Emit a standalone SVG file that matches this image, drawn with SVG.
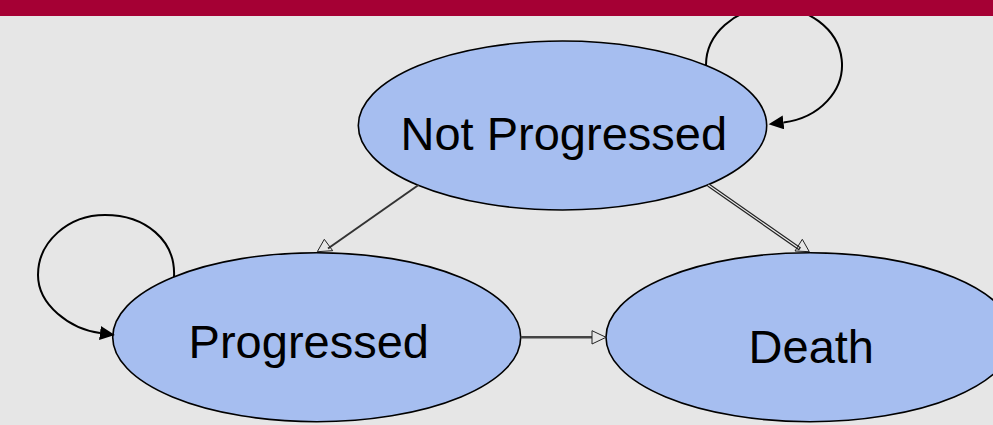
<svg xmlns="http://www.w3.org/2000/svg" width="993" height="425" viewBox="0 0 993 425">
<defs>
<style>
.node ellipse{fill:#A6BEF0;stroke:#000;stroke-width:1.6}
.node text{font-family:"Liberation Sans",Arial,sans-serif;font-size:47px;fill:#000;text-anchor:middle}
.loop{fill:none;stroke:#000;stroke-width:2}
.edge{fill:none;stroke:#333;stroke-width:2}
.dbl-out{fill:none;stroke:#222;stroke-width:3.6}
.dbl-in{fill:none;stroke:#eeeeee;stroke-width:1.2}
.head{fill:none;stroke:#222;stroke-width:1}
</style>
<marker id="fillArrow" markerUnits="userSpaceOnUse" markerWidth="16" markerHeight="16" refX="0" refY="7" orient="auto">
<path d="M0,0 L15,7 L0,14 Z" fill="#000"/>
</marker>
</defs>
<rect width="993" height="425" fill="#E6E6E6"/>

<g id="node-not-progressed" class="node">
<ellipse cx="562.5" cy="125.5" rx="204.2" ry="84.5"/>
<text x="563.8" y="150">Not Progressed</text>
</g>
<g id="node-progressed" class="node">
<ellipse cx="316.7" cy="337.2" rx="204" ry="84.5"/>
<text x="308.8" y="358.3">Progressed</text>
</g>
<g id="node-death" class="node">
<ellipse cx="810" cy="337.2" rx="204" ry="84.5"/>
<text x="811.3" y="363.3">Death</text>
</g>

<g id="connectors">
<path class="loop" d="M706,65 A68,58 0 1 1 783.5,122.4" marker-end="url(#fillArrow)"/>
<path class="loop" d="M174,277 C176,240 145,215 105,215 C68,215 38,242 38,275 C38,305 70,329 100,333" marker-end="url(#fillArrow)"/>
<line class="edge" x1="418.5" y1="185" x2="328" y2="248.5"/>
<polygon class="head" points="324.3,239.3 317.3,251.7 332.7,250.7"/>
<line class="dbl-out" x1="708.3" y1="185" x2="800" y2="249"/>
<line class="dbl-in" x1="708.3" y1="185" x2="799" y2="248.3"/>
<polygon class="head" points="802.3,239.3 795,251 809.3,251.7"/>
<line class="edge" x1="520.7" y1="337.3" x2="592" y2="337.3" style="stroke:#444;stroke-width:2.5"/>
<polygon class="head" points="592,330.7 592,344 606,337.3"/>
</g>

<rect width="993" height="16" fill="#A50034"/>
</svg>
